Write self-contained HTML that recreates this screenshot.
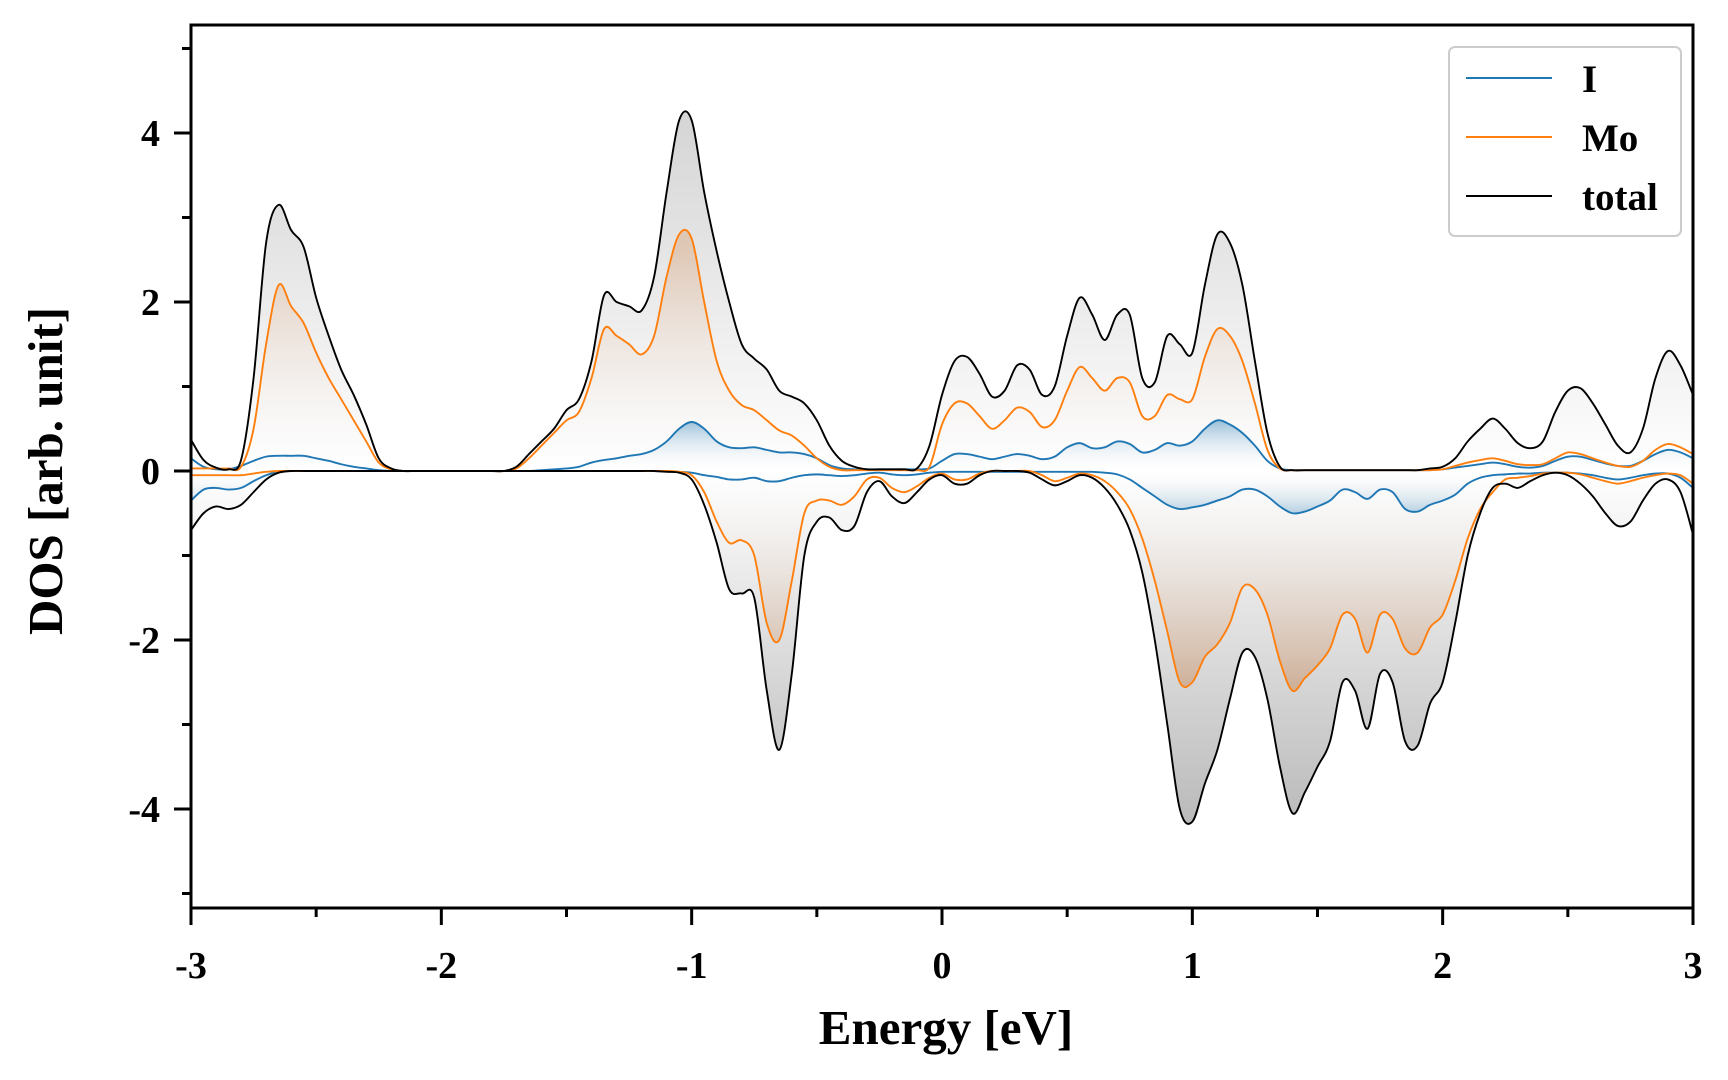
<!DOCTYPE html>
<html><head><meta charset="utf-8"><style>
html,body{margin:0;padding:0;background:#fff;}
svg{display:block;font-family:"Liberation Serif",serif;font-weight:bold;}
</style></head><body>
<svg id="chart" width="1728" height="1080" viewBox="0 0 1728 1080" xmlns="http://www.w3.org/2000/svg">
<defs>
<linearGradient id="gTot" gradientUnits="userSpaceOnUse" x1="0" y1="108" x2="0" y2="834">
<stop offset="0" stop-color="#d4d4d4"/><stop offset="0.5" stop-color="#ffffff"/><stop offset="1" stop-color="#b8b8b8"/>
</linearGradient>
<linearGradient id="gMo" gradientUnits="userSpaceOnUse" x1="0" y1="250" x2="0" y2="692">
<stop offset="0" stop-color="#d9a47c" stop-opacity="0.45"/><stop offset="0.5" stop-color="#ffffff" stop-opacity="0"/><stop offset="1" stop-color="#c9946c" stop-opacity="0.6"/>
</linearGradient>
<linearGradient id="gI" gradientUnits="userSpaceOnUse" x1="0" y1="420" x2="0" y2="522">
<stop offset="0" stop-color="#1f77b4" stop-opacity="0.45"/><stop offset="0.5" stop-color="#ffffff" stop-opacity="0"/><stop offset="1" stop-color="#1f77b4" stop-opacity="0.45"/>
</linearGradient>
<clipPath id="clip"><rect x="191" y="25" width="1502" height="883"/></clipPath>
</defs>
<g id="plot" clip-path="url(#clip)"></g>
<g id="axes"></g>
<g>
<rect x="1449" y="47" width="232" height="189" rx="6" fill="#fff" fill-opacity="0.85" stroke="#cccccc" stroke-width="2"/>
<line x1="1466" y1="78" x2="1552" y2="78" stroke="#1f77b4" stroke-width="2"/>
<text x="1582" y="92" font-size="39">I</text>
<line x1="1466" y1="137" x2="1552" y2="137" stroke="#ff7f0e" stroke-width="2"/>
<text x="1582" y="151" font-size="39">Mo</text>
<line x1="1466" y1="196" x2="1552" y2="196" stroke="#000" stroke-width="2"/>
<text x="1582" y="210" font-size="39">total</text>
</g>
<text x="946" y="1044" font-size="49" text-anchor="middle">Energy [eV]</text>
<text transform="translate(62,471) rotate(-90)" font-size="49" text-anchor="middle">DOS [arb. unit]</text>
</svg>
<script>
const energyStart = -3, energyStep = 0.05;
const totalUp = [.37,.13,.04,.02,.13,1.1,2.7,3.15,2.85,2.65,2.05,1.6,1.2,.9,.55,.15,.03,0,0,0,0,0,0,0,0,0,
.05,.2,.35,.5,.72,.85,1.3,2.08,2.0,1.95,1.9,2.3,3.3,4.15,4.15,3.3,2.6,2.0,1.5,1.33,1.2,.95,.88,.8,.6,.3,.12,.05,.02,.02,.02,.02,.03,.3,
.9,1.3,1.35,1.15,.88,.95,1.25,1.2,.9,1.0,1.6,2.05,1.85,1.55,1.85,1.85,1.1,1.05,1.6,1.5,1.4,2.2,2.8,2.7,2.2,1.3,.45,.05,.01,.01,.01,.01,.01,.01,.01,.01,.01,.01,.01,.03,
.05,.15,.35,.5,.62,.5,.33,.27,.35,.7,.95,.98,.8,.55,.3,.22,.5,1.1,1.42,1.25,.9];
const moUp = [.03,.03,.03,.03,.05,.5,1.5,2.2,1.95,1.75,1.4,1.1,.85,.6,.35,.1,.02,0,0,0,0,0,0,0,0,0,
.03,.15,.3,.45,.6,.7,1.1,1.68,1.6,1.5,1.38,1.6,2.3,2.8,2.75,2.0,1.3,.95,.78,.72,.6,.48,.42,.3,.15,.05,.01,.01,.01,.01,.01,.01,.01,.05,
.55,.8,.8,.65,.5,.6,.75,.7,.52,.6,.95,1.23,1.1,.95,1.1,1.05,.65,.65,.9,.85,.85,1.35,1.68,1.6,1.3,.8,.25,.03,.01,.01,.01,.01,.01,.01,.01,.01,.01,.01,.01,.01,
.02,.06,.1,.13,.15,.12,.08,.07,.08,.15,.22,.2,.15,.1,.06,.05,.12,.25,.32,.28,.2];
const iUp = [.15,.05,.02,.02,.06,.12,.17,.18,.18,.18,.15,.12,.08,.05,.03,.01,0,0,0,0,0,0,0,0,0,0,
0,0,.01,.02,.03,.05,.1,.13,.15,.18,.2,.25,.35,.5,.58,.5,.35,.28,.27,.28,.25,.22,.22,.2,.15,.07,.03,.02,.02,.02,.02,.02,.02,.03,
.12,.2,.2,.17,.14,.17,.2,.18,.14,.17,.28,.33,.27,.28,.35,.32,.22,.25,.33,.3,.35,.5,.6,.55,.45,.3,.12,.03,.01,.01,.01,.01,.01,.01,.01,.01,.01,.01,.01,.01,
.02,.04,.06,.08,.1,.08,.05,.04,.06,.12,.17,.17,.13,.09,.06,.06,.12,.2,.25,.22,.15];
const totalDown = [-.7,-.5,-.42,-.45,-.4,-.25,-.1,-.02,0,0,0,0,0,0,0,0,0,0,0,0,0,0,0,0,0,0,
0,0,0,0,0,0,0,0,0,0,0,0,-.01,-.02,-.1,-.4,-.85,-1.4,-1.45,-1.5,-2.6,-3.3,-2.4,-1.0,-.6,-.55,-.7,-.65,-.25,-.12,-.3,-.38,-.25,-.1,
-.05,-.15,-.15,-.05,0,0,0,-.02,-.1,-.17,-.12,-.05,-.08,-.2,-.4,-.7,-1.2,-2.0,-3.0,-4.0,-4.15,-3.7,-3.3,-2.7,-2.15,-2.2,-2.7,-3.5,-4.05,-3.8,-3.5,-3.2,-2.5,-2.6,-3.05,-2.4,-2.5,-3.2,-3.25,-2.75,
-2.5,-1.8,-1.0,-.5,-.2,-.15,-.2,-.12,-.05,-.02,-.05,-.15,-.3,-.5,-.65,-.6,-.35,-.15,-.1,-.25,-.75];
const moDown = [-.05,-.05,-.05,-.05,-.05,-.03,-.01,0,0,0,0,0,0,0,0,0,0,0,0,0,0,0,0,0,0,0,
0,0,0,0,0,0,0,0,0,0,0,0,0,-.01,-.05,-.25,-.6,-.85,-.82,-1.0,-1.8,-2.0,-1.3,-.5,-.35,-.35,-.4,-.3,-.1,-.08,-.2,-.25,-.18,-.08,
-.03,-.1,-.1,-.03,0,0,0,0,-.05,-.12,-.08,-.03,-.05,-.12,-.25,-.45,-.8,-1.3,-1.9,-2.5,-2.5,-2.2,-2.05,-1.8,-1.38,-1.4,-1.7,-2.25,-2.6,-2.45,-2.3,-2.1,-1.7,-1.75,-2.15,-1.7,-1.75,-2.1,-2.15,-1.85,
-1.7,-1.3,-.8,-.45,-.25,-.1,-.08,-.06,-.03,-.02,-.02,-.04,-.08,-.12,-.15,-.12,-.08,-.05,-.03,-.05,-.15];
const iDown = [-.35,-.22,-.2,-.22,-.2,-.12,-.05,-.01,0,0,0,0,0,0,0,0,0,0,0,0,0,0,0,0,0,0,
0,0,0,0,0,0,0,0,0,0,0,0,0,-.01,-.02,-.05,-.07,-.1,-.1,-.08,-.12,-.12,-.08,-.05,-.04,-.05,-.06,-.05,-.03,-.02,-.04,-.05,-.04,-.02,
-.01,-.01,-.01,-.01,-.01,-.01,-.01,-.01,-.01,-.01,-.01,-.01,-.01,-.02,-.04,-.1,-.2,-.3,-.4,-.45,-.43,-.4,-.35,-.3,-.22,-.22,-.3,-.42,-.5,-.48,-.42,-.35,-.22,-.25,-.33,-.22,-.25,-.45,-.48,-.4,
-.35,-.28,-.15,-.08,-.05,-.04,-.03,-.03,-.02,-.02,-.02,-.03,-.05,-.08,-.1,-.08,-.05,-.03,-.03,-.08,-.2];
const xTickLabels = ["-3","-2","-1","0","1","2","3"];
const yTickLabels = ["-4","-2","0","2","4"];

const X0=191, X1=1693, Y0=471, PY=84.5;
function xs(e){return X0+(e+3)/6*(X1-X0);}
function ys(v){return Y0-v*PY;}
const NS="http://www.w3.org/2000/svg";
function pts(arr){return arr.map((v,i)=>[xs(energyStart+i*energyStep),ys(v)]);}
function smooth(p){
  let d="M"+p[0][0].toFixed(2)+","+p[0][1].toFixed(2);
  for(let i=0;i<p.length-1;i++){
    const a=p[Math.max(0,i-1)],b=p[i],c=p[i+1],e=p[Math.min(p.length-1,i+2)];
    const c1x=b[0]+(c[0]-a[0])/6,c1y=b[1]+(c[1]-a[1])/6,c2x=c[0]-(e[0]-b[0])/6,c2y=c[1]-(e[1]-b[1])/6;
    d+="C"+c1x.toFixed(2)+","+c1y.toFixed(2)+" "+c2x.toFixed(2)+","+c2y.toFixed(2)+" "+c[0].toFixed(2)+","+c[1].toFixed(2);
  }
  return d;
}
const plot=document.getElementById('plot');
function addFill(arr,fill,name){
  const p=pts(arr);
  const el=document.createElementNS(NS,'path');
  el.setAttribute('d',smooth(p)+"L"+p[p.length-1][0]+","+Y0+"L"+p[0][0]+","+Y0+"Z");
  el.setAttribute('fill',fill);
  
  
  plot.appendChild(el);
}
function addLine(arr,color,name){
  const el=document.createElementNS(NS,'path');
  el.setAttribute('d',smooth(pts(arr)));
  el.setAttribute('fill','none');el.setAttribute('stroke',color);el.setAttribute('stroke-width','1.9');
  
  
  plot.appendChild(el);
}
addFill(totalUp,'url(#gTot)','total-up-fill');addFill(totalDown,'url(#gTot)','total-down-fill');
addFill(moUp,'url(#gMo)','mo-up-fill');addFill(moDown,'url(#gMo)','mo-down-fill');
addFill(iUp,'url(#gI)','i-up-fill');addFill(iDown,'url(#gI)','i-down-fill');
addLine(iUp,'#1f77b4','i-up-line');addLine(iDown,'#1f77b4','i-down-line');
addLine(moUp,'#ff7f0e','mo-up-line');addLine(moDown,'#ff7f0e','mo-down-line');
addLine(totalUp,'#000','total-up-line');addLine(totalDown,'#000','total-down-line');

const axes=document.getElementById('axes');
function mk(tag,attrs){const el=document.createElementNS(NS,tag);for(const k in attrs)el.setAttribute(k,attrs[k]);axes.appendChild(el);return el;}
const frame=mk('rect',{x:X0,y:25,width:X1-X0,height:883,fill:'none',stroke:'#000','stroke-width':3});


for(let k=-6;k<=6;k++){
  const e=k/2,x=xs(e),major=(k%2===0);
  const t=mk('line',{x1:x,y1:908,x2:x,y2:908+(major?17:9),stroke:'#000','stroke-width':3});
  
  
  if(major){
    const lb=mk('text',{x:x,y:978,'font-size':38,'text-anchor':'middle'});
    lb.textContent=xTickLabels[(k+6)/2];
    
    
  }
}
for(let v=-5;v<=5;v++){
  const y=ys(v),major=(v%2===0);
  const t=mk('line',{x1:X0,y1:y,x2:X0-(major?17:9),y2:y,stroke:'#000','stroke-width':3});
  
  
  if(major){
    const lb=mk('text',{x:160,y:y+13,'font-size':38,'text-anchor':'end'});
    lb.textContent=yTickLabels[(v+4)/2];
    
    
  }
}
</script>
</body></html>
